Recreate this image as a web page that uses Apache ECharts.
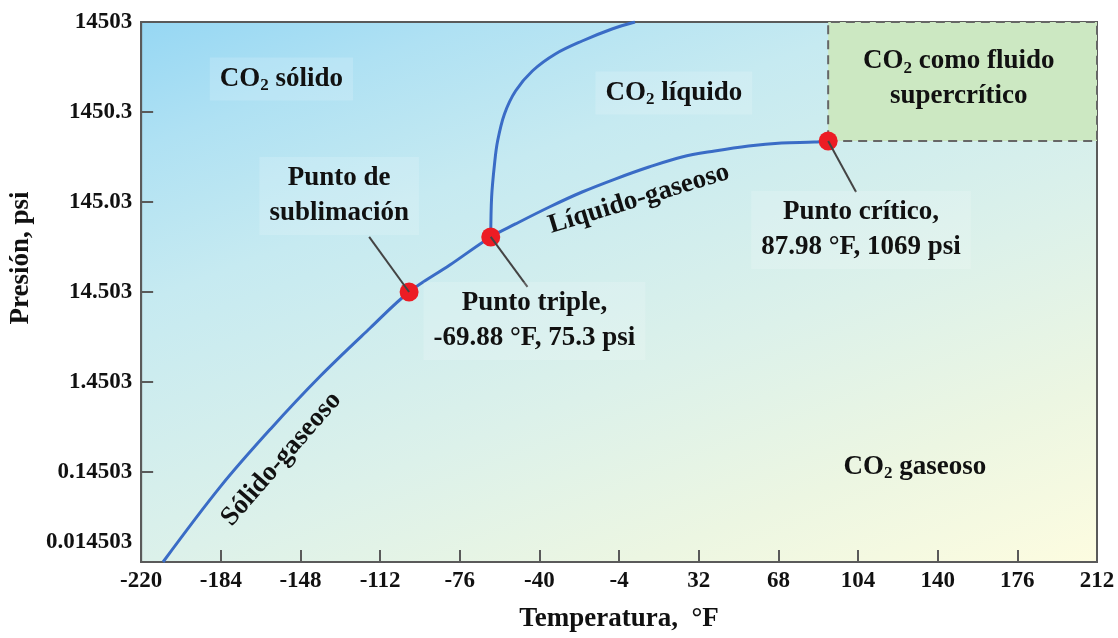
<!DOCTYPE html>
<html><head><meta charset="utf-8">
<script src="https://cdn.jsdelivr.net/npm/echarts@6/dist/echarts.min.js"></script>
<style>html,body{margin:0;padding:0;background:#fff}#c{width:1118px;height:638px}</style>
</head><body><div id="c"></div>
<script>
// ---- data ----
const xTickLabels = ['-220','-184','-148','-112','-76','-40','-4','32','68','104','140','176','212'];
const yTickLabels = ['0.014503','0.14503','1.4503','14.503','145.03','1450.3','14503'];
const T_MIN = -220, T_MAX = 212, T_STEP = 36;
const P_REF = 14.503, P_MAX = 14503;

// sólido-gaseoso + líquido-gaseoso curve (°F, psi)
const vaporT = [-210.1,-184.0,-161.5,-139.0,-116.5,-98.9,-80.5,-62.0,-50.8,-35.5,-20.7,-5.8,9.5,24.4,39.2,54.5,69.4,84.2,90.5];
const vaporP = [0.0145,0.101,0.437,1.69,5.77,14.503,28.9,59.3,82.7,127.6,187.3,261,355,459,535,608,657,672,690];
// sólido-líquido curve
const meltT = [-62.0,-61.6,-60.3,-58.9,-55.8,-50.8,-43.2,-32.8,-20.7,-7.2,3.2];
const meltP = [59.3,165,383,690,1378,2480,4142,6400,8920,12130,14503];
// marked points: sublimación, triple, crítico
const pointT = [-98.9,-62.0,90.5];
const pointP = [14.503,59.3,690];
// leader line outer ends (paired with the points)
const leaderT = [-116.95,-45.4,103.1];
const leaderP = [59.3,16.5,187.3];
// annotation texts and anchors
const annotTexts = ['CO{s|2} sólido','CO{s|2} líquido','CO{s|2} como fluido\nsupercrítico','Punto de\nsublimación','Punto triple,\n-69.88 °F, 75.3 psi','Punto crítico,\n87.98 °F, 1069 psi','CO{s|2} gaseoso','Líquido-gaseoso','Sólido-gaseoso'];
const annotT = [-156.6,20.75,149.5,-130.5,-42.25,105.35,129.65,5,-156.6];
const annotP = [3373,2358,3373,169,6.91,70.9,0.165,156.6,0.202];

// ---- scales ----
const toX = t => t - T_MIN;
const toY = p => Math.log10(p / P_REF);
const pts = (ts, ps) => ts.map((t, i) => [toX(t), toY(ps[i])]);

const FONT = "'Liberation Serif','Times New Roman',serif";
const annotRotate = [0,0,0,0,0,0,0,17,49];
const annotBox = [true,true,false,true,true,true,false,false,false];
const rich = { s: { fontFamily: FONT, fontWeight: 'bold', fontSize: 17, color: '#111', padding: [14,0,0,0], textBorderWidth: 0 } };

const chart = echarts.init(document.getElementById('c'));
chart.setOption({
  animation: false,
  backgroundColor: '#ffffff',
  grid: {
    left: 137, right: 21, top: 22, bottom: 75, show: true,
    borderColor: '#5a5a5a', borderWidth: 2,
    backgroundColor: { type: 'linear', x: 0, y: 0, x2: 0.316, y2: 1.464, colorStops: [
      { offset: 0, color: '#96d7f3' },
      { offset: 0.14, color: '#afe1f3' },
      { offset: 0.31, color: '#c6eaf1' },
      { offset: 0.6, color: '#dcf1ea' },
      { offset: 0.8, color: '#ecf6e2' },
      { offset: 1, color: '#fdfce0' } ] }
  },
  xAxis: {
    type: 'value', min: 0, max: toX(T_MAX), interval: T_STEP,
    name: 'Temperatura,  °F', nameLocation: 'middle', nameGap: 44,
    nameTextStyle: { fontFamily: FONT, fontWeight: 'bold', fontSize: 27, color: '#111' },
    axisLine: { show: true, onZero: false, lineStyle: { color: '#5a5a5a', width: 2 } },
    axisTick: { show: true, inside: true, length: 12, lineStyle: { color: '#5a5a5a', width: 2 } },
    axisLabel: { showMinLabel: true, showMaxLabel: true, margin: 8, fontFamily: FONT, fontWeight: 'bold', fontSize: 23, color: '#111',
      formatter: v => xTickLabels[Math.round(v / T_STEP)] },
    splitLine: { show: false }
  },
  yAxis: {
    type: 'value', min: -3, max: 3, interval: 1,
    name: 'Presión, psi', nameLocation: 'middle', nameGap: 101,
    nameTextStyle: { fontFamily: FONT, fontWeight: 'bold', fontSize: 27, color: '#111', padding: [0,0,0,68] },
    axisLine: { show: true, onZero: false, lineStyle: { color: '#5a5a5a', width: 2 } },
    axisTick: { show: true, inside: true, length: 12, lineStyle: { color: '#5a5a5a', width: 2 } },
    axisLabel: { showMinLabel: true, showMaxLabel: true, margin: 9, fontFamily: FONT, fontWeight: 'bold', fontSize: 23, color: '#111',
      formatter: v => { const i = Math.round(v + 3); return i === 0 ? '{lo|' + yTickLabels[i] + '}' : yTickLabels[i]; },
      rich: { lo: { fontFamily: FONT, fontWeight: 'bold', fontSize: 23, color: '#111', padding: [0,0,40,0] } } },
    splitLine: { show: false }
  },
  series: [
    { type: 'line', z: 1, data: [], silent: true,
      markArea: { silent: true,
        itemStyle: { color: '#cce8c2', borderColor: '#666', borderWidth: 2, borderType: [9,6] },
        data: [[ { coord: [toX(pointT[2]), toY(pointP[2])] }, { coord: [toX(T_MAX), toY(P_MAX)] } ]] } },
    { type: 'line', z: 2, data: [], silent: true,
      markLine: { silent: true, symbol: 'none', label: { show: false },
        lineStyle: { color: '#444', width: 2, type: 'solid' },
        data: leaderT.map((t, i) => [ { coord: [toX(t), toY(leaderP[i])] }, { coord: [toX(pointT[i]), toY(pointP[i])] } ]) } },
    { type: 'line', z: 3, smooth: 0.35, showSymbol: false, data: pts(vaporT, vaporP), lineStyle: { color: '#3a6cc6', width: 3 } },
    { type: 'line', z: 3, smooth: 0.35, showSymbol: false, data: pts(meltT, meltP), lineStyle: { color: '#3a6cc6', width: 3 } },
    { type: 'scatter', z: 4, symbol: 'circle', symbolSize: 19, itemStyle: { color: '#ec1c24', opacity: 1 }, data: pts(pointT, pointP) },
    { type: 'scatter', z: 5, symbolSize: 0, silent: true, itemStyle: { opacity: 1 },
      data: annotTexts.map((txt, i) => ({
        value: [toX(annotT[i]), toY(annotP[i])],
        label: {
          show: true, position: 'inside', formatter: txt, rotate: annotRotate[i],
          fontFamily: FONT, fontWeight: 'bold', fontSize: 27, lineHeight: 35, color: '#111', align: 'center',
          textBorderWidth: 0, textBorderColor: 'transparent', opacity: 1,
          backgroundColor: annotBox[i] ? 'rgba(255,255,255,0.16)' : 'transparent',
          padding: annotBox[i] ? [4,10] : 0,
          rich: rich
        }
      })) }
  ]
});
</script></body></html>
